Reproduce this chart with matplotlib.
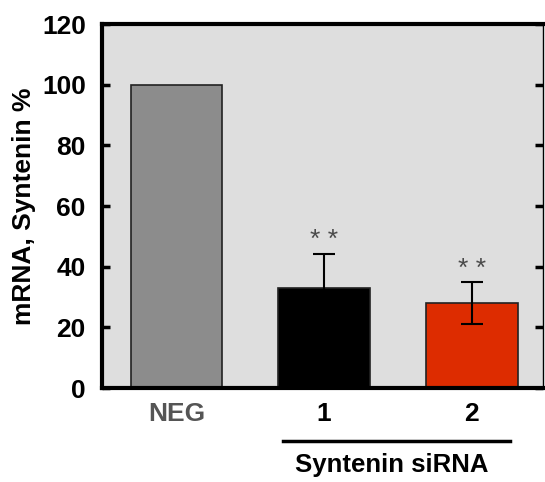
import matplotlib
matplotlib.use("Agg")
import matplotlib.pyplot as plt

plt.rcParams['font.family'] = ['Liberation Sans', 'DejaVu Sans']

groups = ['NEG', '1', '2']
values = [100, 33, 28]
errors = [0, 11.3, 6.8]
colors = ['#8c8c8c', '#000000', '#dd2c00']
stars = ['', '* *', '* *']
label_colors = ['#555555', '#000000', '#000000']

fig = plt.figure(figsize=(5.45, 4.82), dpi=100)
ax = fig.add_axes([0.188, 0.195, 0.808, 0.755])
ax.set_facecolor('#dedede')

x = range(len(groups))
ax.bar(x, values, width=0.62, color=colors, edgecolor='#222222', linewidth=1.2, zorder=2)
for i in x:
    if errors[i] > 0:
        ax.errorbar(i, values[i], yerr=errors[i], fmt='none', ecolor='#000000',
                    elinewidth=1.5, capsize=8, capthick=1.5, zorder=3)
        ax.text(i, values[i] + errors[i] + 0.5, stars[i], ha='center', va='bottom',
                fontsize=19, color='#4a4a4a')

ax.set_xlim(-0.5, 2.48)
ax.set_ylim(0, 120)
ax.set_yticks(range(0, 121, 20))
ax.tick_params(axis='y', direction='in', length=6, width=2.5, labelsize=19, right=True, pad=12)
ax.tick_params(axis='x', length=0, pad=10, labelsize=19)
for lab in ax.get_yticklabels():
    lab.set_fontweight('bold')
ax.set_xticks(list(x))
ax.set_xticklabels(groups, fontweight='bold')
for lab, c in zip(ax.get_xticklabels(), label_colors):
    lab.set_color(c)

for side in ['left', 'top', 'bottom']:
    ax.spines[side].set_linewidth(3)
ax.spines['right'].set_linewidth(1)

ax.set_ylabel('mRNA, Syntenin %', fontsize=19, fontweight='bold', labelpad=4)

# group bracket under siRNA bars
ax.plot([0.72, 2.26], [-17.5, -17.5], color='black', lw=2.5, clip_on=False)
ax.text(1.46, -21.5, 'Syntenin siRNA', ha='center', va='top', fontsize=18.5,
        fontweight='bold')

fig.savefig('out.png', dpi=100)
